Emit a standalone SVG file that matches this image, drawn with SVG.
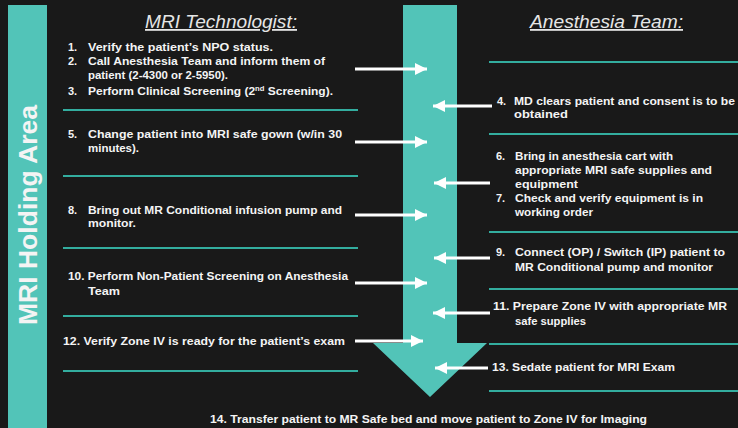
<svg xmlns="http://www.w3.org/2000/svg" width="738" height="428" viewBox="0 0 738 428">
<defs>
<style>
.t{font-family:"Liberation Sans",Arial,sans-serif;font-size:11px;font-weight:bold;fill:#f4f4f4}
.h{font-family:"Liberation Sans",Arial,sans-serif;font-size:18px;font-style:italic;fill:#e6e6e6;text-decoration:underline}
.v{font-family:"Liberation Sans",Arial,sans-serif;font-size:26px;font-weight:bold;fill:#f4f4f4}
.sep{stroke:#33ad9f;stroke-width:2.2}
.ar{stroke:#ffffff;stroke-width:3.2;fill:none}
</style>
<marker id="ah" markerUnits="userSpaceOnUse" markerWidth="14" markerHeight="12" refX="12" refY="6" orient="auto">
<path d="M0,0 L12,6 L0,12 Z" fill="#ffffff"/>
</marker>
</defs>
<rect width="738" height="428" fill="#191919"/>

<g id="holding-bar">
<rect x="8" y="5" width="39" height="423" fill="#52c4b8"/>
<text class="v" transform="translate(37,215) rotate(-90)" text-anchor="middle" textLength="220" lengthAdjust="spacingAndGlyphs">MRI Holding Area</text>
</g>

<g id="flow-arrow">
<path d="M403,5 H457 V343 H487 L430,397 L373,343 H403 Z" fill="#52c4b8"/>
</g>

<g id="titles">
<text class="h" x="145" y="28" textLength="152" lengthAdjust="spacingAndGlyphs">MRI Technologist:</text>
<text class="h" x="530" y="28" textLength="153" lengthAdjust="spacingAndGlyphs">Anesthesia Team:</text>
</g>

<g id="separators">
<line class="sep" x1="63" y1="110" x2="358" y2="110"/>
<line class="sep" x1="63" y1="176" x2="358" y2="176"/>
<line class="sep" x1="63" y1="248" x2="358" y2="248"/>
<line class="sep" x1="63" y1="316" x2="358" y2="316"/>
<line class="sep" x1="63" y1="371" x2="358" y2="371"/>
<line class="sep" x1="489" y1="62" x2="738" y2="62"/>
<line class="sep" x1="489" y1="134" x2="738" y2="134"/>
<line class="sep" x1="489" y1="232" x2="738" y2="232"/>
<line class="sep" x1="489" y1="289" x2="738" y2="289"/>
<line class="sep" x1="489" y1="344" x2="738" y2="344"/>
<line class="sep" x1="489" y1="391" x2="738" y2="391"/>
</g>

<g id="step-1-3">
<text class="t" x="68" y="51">1.</text>
<text class="t" x="88" y="51" textLength="185" lengthAdjust="spacingAndGlyphs">Verify the patient’s NPO status.</text>
<text class="t" x="68" y="65">2.</text>
<text class="t" x="88" y="65" textLength="237" lengthAdjust="spacingAndGlyphs">Call Anesthesia Team and inform them of</text>
<text class="t" x="88" y="79" textLength="140" lengthAdjust="spacingAndGlyphs">patient (2-4300 or 2-5950).</text>
<text class="t" x="68" y="95">3.</text>
<text class="t" x="88" y="95" textLength="245" lengthAdjust="spacingAndGlyphs">Perform Clinical Screening (2<tspan font-size="7" dy="-4">nd</tspan><tspan dy="4"> Screening).</tspan></text>
</g>

<g id="step-4">
<text class="t" x="497" y="105">4.</text>
<text class="t" x="514" y="105" textLength="221" lengthAdjust="spacingAndGlyphs">MD clears patient and consent is to be</text>
<text class="t" x="514" y="118" textLength="54" lengthAdjust="spacingAndGlyphs">obtained</text>
</g>

<g id="step-5">
<text class="t" x="68" y="138">5.</text>
<text class="t" x="88" y="138" textLength="254" lengthAdjust="spacingAndGlyphs">Change patient into MRI safe gown (w/in 30</text>
<text class="t" x="88" y="152" textLength="51" lengthAdjust="spacingAndGlyphs">minutes).</text>
</g>

<g id="step-6-7">
<text class="t" x="496" y="160">6.</text>
<text class="t" x="515" y="160" textLength="158" lengthAdjust="spacingAndGlyphs">Bring in anesthesia cart with</text>
<text class="t" x="515" y="174" textLength="197" lengthAdjust="spacingAndGlyphs">appropriate MRI safe supplies and</text>
<text class="t" x="515" y="188" textLength="63" lengthAdjust="spacingAndGlyphs">equipment</text>
<text class="t" x="496" y="202">7.</text>
<text class="t" x="515" y="202" textLength="188" lengthAdjust="spacingAndGlyphs">Check and verify equipment is in</text>
<text class="t" x="515" y="216" textLength="78" lengthAdjust="spacingAndGlyphs">working order</text>
</g>

<g id="step-8">
<text class="t" x="68" y="214">8.</text>
<text class="t" x="88" y="214" textLength="254" lengthAdjust="spacingAndGlyphs">Bring out MR Conditional infusion pump and</text>
<text class="t" x="88" y="227" textLength="48" lengthAdjust="spacingAndGlyphs">monitor.</text>
</g>

<g id="step-9">
<text class="t" x="496" y="256">9.</text>
<text class="t" x="515" y="256" textLength="210" lengthAdjust="spacingAndGlyphs">Connect (OP) / Switch (IP) patient to</text>
<text class="t" x="515" y="271" textLength="198" lengthAdjust="spacingAndGlyphs">MR Conditional pump and monitor</text>
</g>

<g id="step-10">
<text class="t" x="68" y="280" textLength="280" lengthAdjust="spacingAndGlyphs">10. Perform Non-Patient Screening on Anesthesia</text>
<text class="t" x="88" y="295" textLength="32" lengthAdjust="spacingAndGlyphs">Team</text>
</g>

<g id="step-11">
<text class="t" x="493" y="310" textLength="234" lengthAdjust="spacingAndGlyphs">11. Prepare Zone IV with appropriate MR</text>
<text class="t" x="515" y="325" textLength="71" lengthAdjust="spacingAndGlyphs">safe supplies</text>
</g>

<g id="step-12">
<text class="t" x="63" y="345" textLength="282" lengthAdjust="spacingAndGlyphs">12. Verify Zone IV is ready for the patient’s exam</text>
</g>

<g id="step-13">
<text class="t" x="492" y="371" textLength="183" lengthAdjust="spacingAndGlyphs">13. Sedate patient for MRI Exam</text>
</g>

<g id="step-14">
<text class="t" x="210" y="423" textLength="437" lengthAdjust="spacingAndGlyphs">14. Transfer patient to MR Safe bed and move patient to Zone IV for Imaging</text>
</g>

<g id="connectors">
<line class="ar" x1="355" y1="69" x2="427" y2="69" marker-end="url(#ah)"/>
<line class="ar" x1="492" y1="106" x2="433" y2="106" marker-end="url(#ah)"/>
<line class="ar" x1="355" y1="142" x2="427" y2="142" marker-end="url(#ah)"/>
<line class="ar" x1="490" y1="183" x2="434" y2="183" marker-end="url(#ah)"/>
<line class="ar" x1="355" y1="215" x2="427" y2="215" marker-end="url(#ah)"/>
<line class="ar" x1="490" y1="258" x2="434" y2="258" marker-end="url(#ah)"/>
<line class="ar" x1="355" y1="283" x2="427" y2="283" marker-end="url(#ah)"/>
<line class="ar" x1="490" y1="313" x2="433" y2="313" marker-end="url(#ah)"/>
<line class="ar" x1="355" y1="341" x2="423" y2="341" marker-end="url(#ah)"/>
<line class="ar" x1="488" y1="368" x2="435" y2="368" marker-end="url(#ah)"/>
</g>
</svg>
